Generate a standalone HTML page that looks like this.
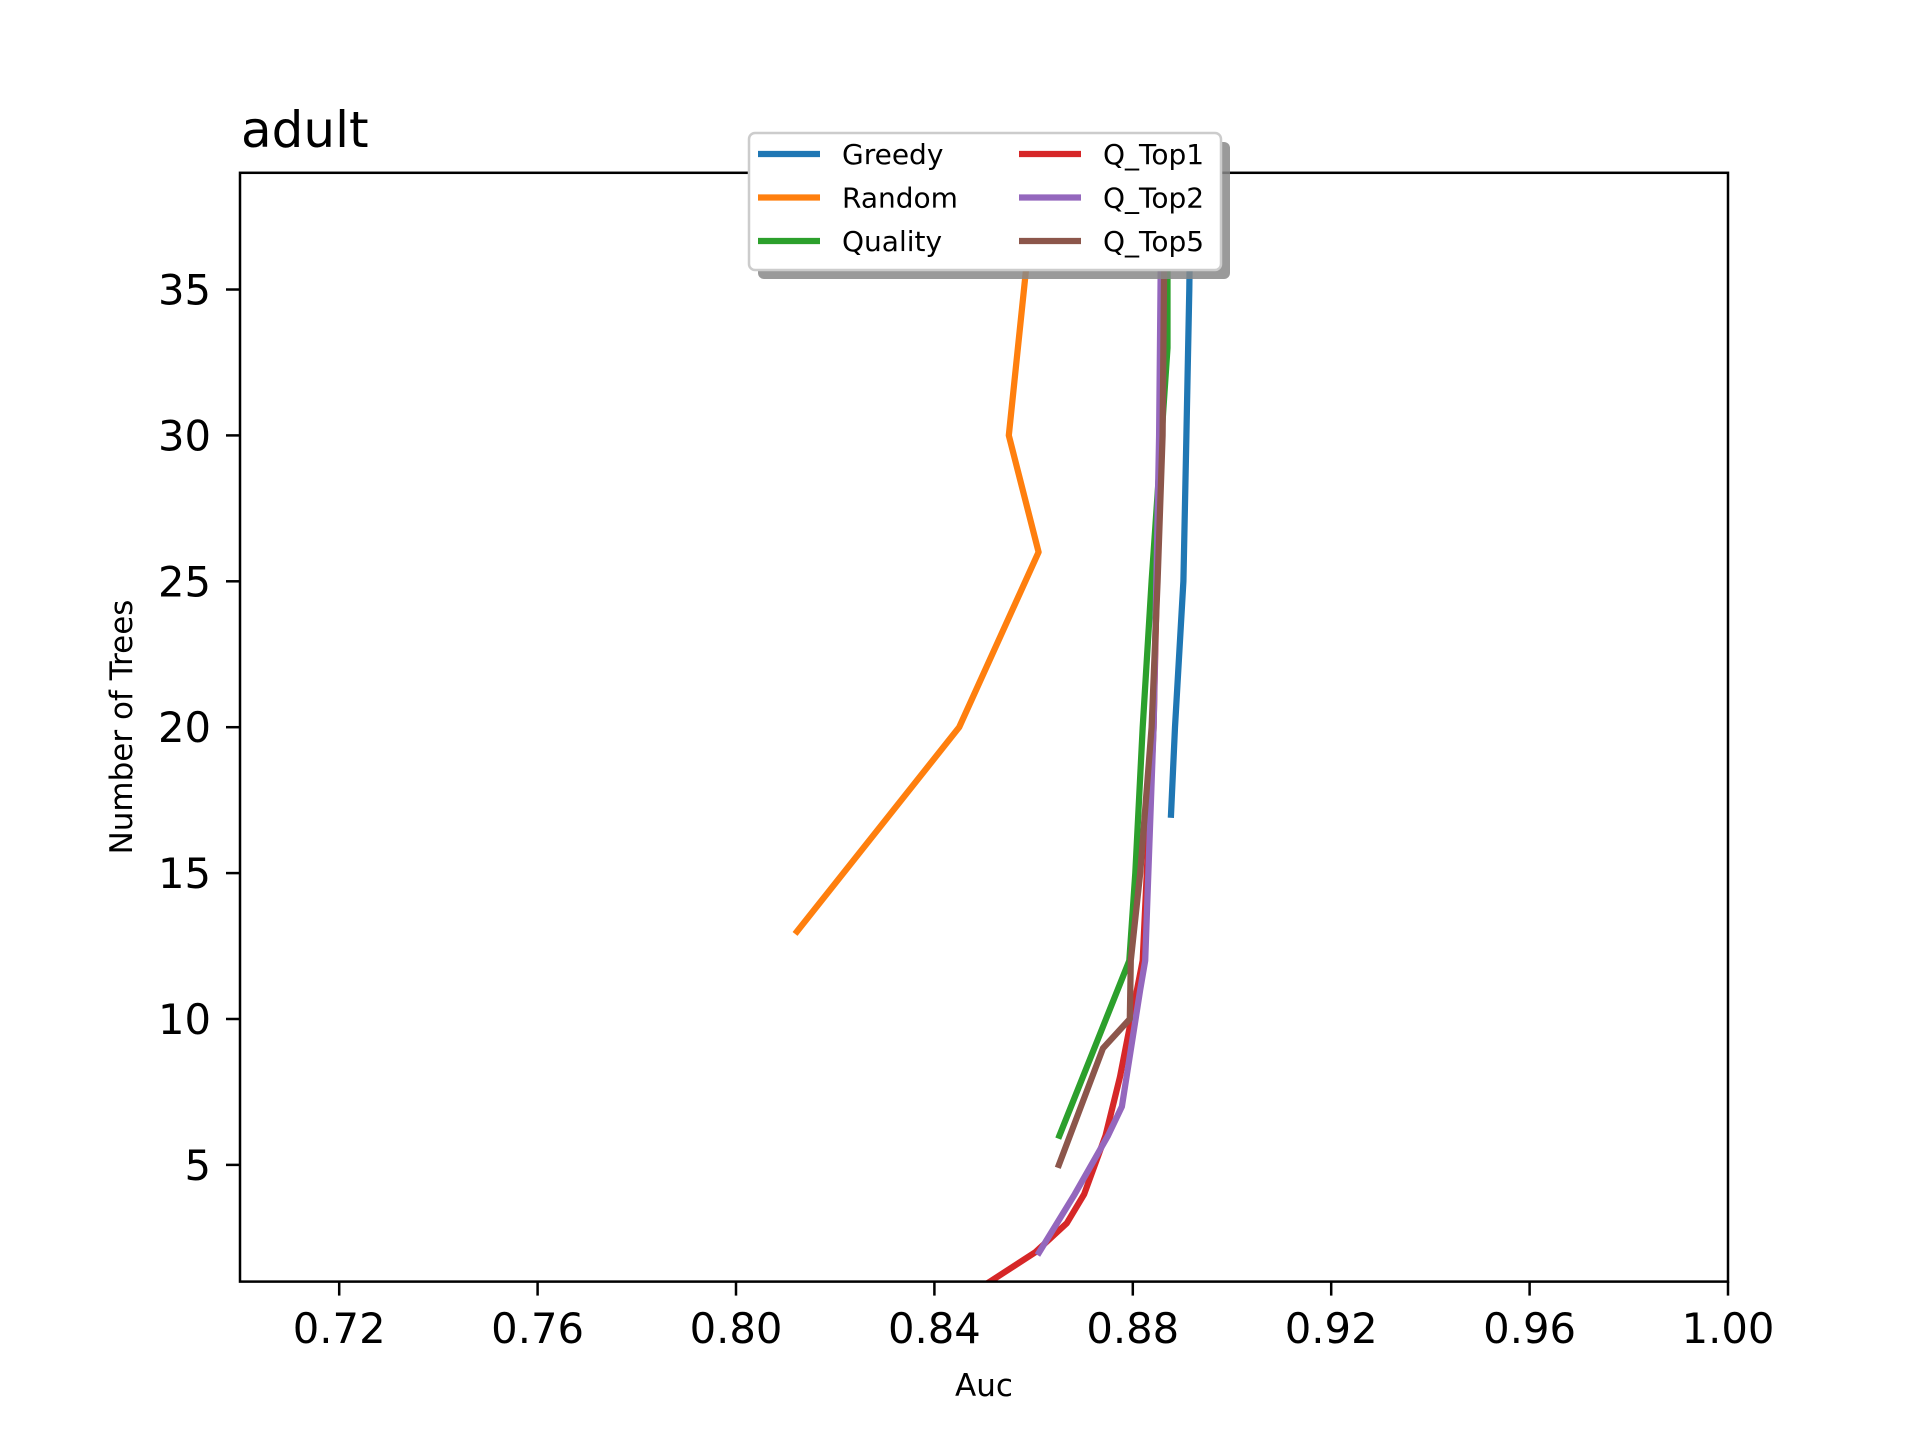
<!DOCTYPE html>
<html><head><meta charset="utf-8"><style>
html,body{margin:0;padding:0;background:#fff;}
svg{display:block;font-family:"DejaVu Sans","Liberation Sans",sans-serif;}
</style></head><body>
<svg id="chart" width="1920" height="1440" viewBox="0 0 1920 1440" xmlns="http://www.w3.org/2000/svg">
<rect width="1920" height="1440" fill="#fff"/>
<defs><clipPath id="plotclip"><rect x="240" y="172.8" width="1488" height="1108.8"/></clipPath></defs>
<g id="series" clip-path="url(#plotclip)"></g>
<rect x="240" y="172.8" width="1488" height="1108.8" fill="none" stroke="#000" stroke-width="2.5"/>
<g id="xticks"></g><g id="yticks"></g>
<text x="241" y="147" font-size="50">adult</text>
<text x="984" y="1396" font-size="31" text-anchor="middle">Auc</text>
<text transform="translate(132,727) rotate(-90)" font-size="31" text-anchor="middle">Number of Trees</text>
<g id="legend"></g>
</svg>
<script>
const xTicks=[0.72,0.76,0.80,0.84,0.88,0.92,0.96,1.00];
const yTicks=[5,10,15,20,25,30,35];
const seriesNames=["Greedy","Random","Quality","Q_Top1","Q_Top2","Q_Top5"];
const seriesColors=["#1f77b4","#ff7f0e","#2ca02c","#d62728","#9467bd","#8c564b"];
const greedyY=[17,20,25,30,35,39];
const greedyX=[0.8877,0.8885,0.8902,0.8908,0.8914,0.8917];
const randomY=[13,20,26,30,39];
const randomX=[0.8123,0.845,0.861,0.855,0.8605];
const qualityY=[6,10,12,15,20,25,30,33,39];
const qualityX=[0.8652,0.8746,0.8793,0.8805,0.882,0.8838,0.8858,0.887,0.887];
const top1Y=[1,2,3,4,6,8,12,20,30,39];
const top1X=[0.8512,0.8603,0.8667,0.8702,0.8745,0.8774,0.882,0.8842,0.8855,0.886];
const top2Y=[2,4,6,7,11,12,20,30,39];
const top2X=[0.8611,0.8683,0.875,0.8778,0.8815,0.8825,0.8842,0.8853,0.8858];
const top5Y=[5,9,10,12,15,20,25,30,39];
const top5X=[0.8651,0.874,0.8794,0.8796,0.8815,0.8838,0.885,0.886,0.8865];

const NS="http://www.w3.org/2000/svg";
const X0=240,X1=1728,Y0=1281.6,Y1=172.8,XMIN=0.70,XMAX=1.00,YMIN=1,YMAX=39;
function sx(v){return X0+(v-XMIN)/(XMAX-XMIN)*(X1-X0);}
function sy(v){return Y0-(v-YMIN)/(YMAX-YMIN)*(Y0-Y1);}
function mk(tag,attrs,parent){const e=document.createElementNS(NS,tag);for(const k in attrs)e.setAttribute(k,attrs[k]);parent.appendChild(e);return e;}

const xt=document.getElementById('xticks');
xTicks.forEach(t=>{
  const l=mk('line',{x1:sx(t),x2:sx(t),y1:Y0,y2:Y0+14,stroke:'#000','stroke-width':2.5},xt);
  
  
  const tx=mk('text',{x:sx(t),y:1343,'font-size':41.7,'text-anchor':'middle'},xt);
  tx.textContent=t.toFixed(2);
  
  
});
const yt=document.getElementById('yticks');
yTicks.forEach(t=>{
  const l=mk('line',{x1:X0-14,x2:X0,y1:sy(t),y2:sy(t),stroke:'#000','stroke-width':2.5},yt);
  
  
  const tx=mk('text',{x:211,y:sy(t)+15,'font-size':41.7,'text-anchor':'end'},yt);
  tx.textContent=String(t);
  
  
});

const allX=[greedyX,randomX,qualityX,top1X,top2X,top5X];
const allY=[greedyY,randomY,qualityY,top1Y,top2Y,top5Y];
const sg=document.getElementById('series');
allX.forEach((xs,i)=>{
  const pts=xs.map((v,j)=>sx(v).toFixed(1)+','+sy(allY[i][j]).toFixed(1)).join(' ');
  const p=mk('polyline',{points:pts,fill:'none',stroke:seriesColors[i],'stroke-width':6.25,'stroke-linejoin':'round','stroke-linecap':'square'},sg);
  
  
});

const lg=document.getElementById('legend');
mk('rect',{x:758,y:142,width:472,height:137,rx:6,fill:'#888',opacity:0.85},lg);
mk('rect',{x:749,y:133,width:472,height:137,rx:6,fill:'#fff',stroke:'#ccc','stroke-width':2.5},lg);
seriesNames.forEach((n,i)=>{
  const col=Math.floor(i/3),row=i%3;
  const lx=col?1019:758, tx=col?1103:842, y=154+row*43.5;
  const l=mk('line',{x1:lx,x2:lx+62,y1:y,y2:y,stroke:seriesColors[i],'stroke-width':6.25},lg);
  
  
  const t=mk('text',{x:tx,y:y+10,'font-size':28},lg);
  t.textContent=n;
  
  
});
</script>
</body></html>
